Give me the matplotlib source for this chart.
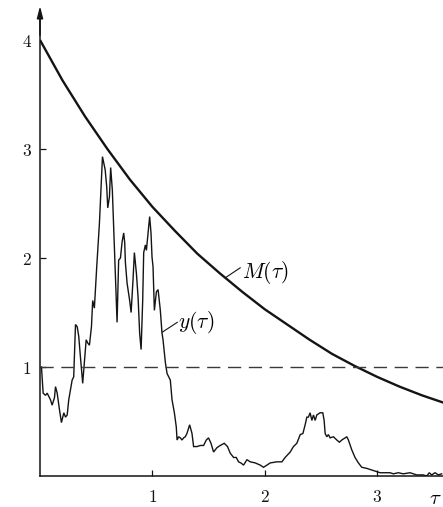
import numpy as np
import matplotlib
matplotlib.use("Agg")
import matplotlib.pyplot as plt

plt.rcParams["mathtext.fontset"] = "cm"

# bounding curve M(tau)
m_tau = [0.0, 0.2, 0.4, 0.6, 0.8, 1.0, 1.2, 1.4, 1.6, 1.8, 2.0, 2.2, 2.4,
         2.6, 2.8, 3.0, 3.2, 3.4, 3.6]
m_val = [4.00, 3.63, 3.30, 3.00, 2.72, 2.47, 2.25, 2.04, 1.86, 1.69, 1.53,
         1.39, 1.25, 1.12, 1.01, 0.91, 0.82, 0.74, 0.67]

# sampled signal y(tau)
y_tau = [0.013, 0.028, 0.049, 0.064, 0.093, 0.108, 0.129, 0.138, 0.153, 0.173,
         0.191, 0.212, 0.227, 0.242, 0.256, 0.271, 0.286, 0.300, 0.316, 0.331,
         0.345, 0.360, 0.380, 0.396, 0.411, 0.425, 0.440, 0.458, 0.469, 0.484,
         0.505, 0.529, 0.556, 0.580, 0.594, 0.603, 0.618, 0.629, 0.644, 0.668,
         0.686, 0.700, 0.716, 0.731, 0.745, 0.754, 0.760, 0.775, 0.798, 0.811,
         0.828, 0.840, 0.858, 0.873, 0.887, 0.900, 0.914, 0.923, 0.938, 0.947,
         0.958, 0.976, 0.988, 0.997, 1.006, 1.018, 1.036, 1.051, 1.062, 1.071,
         1.086, 1.095, 1.116, 1.131, 1.160, 1.175, 1.196, 1.213, 1.220, 1.234,
         1.249, 1.264, 1.278, 1.293, 1.308, 1.332, 1.353, 1.367, 1.397, 1.427,
         1.456, 1.480, 1.500, 1.522, 1.545, 1.575, 1.604, 1.640, 1.669, 1.693,
         1.723, 1.747, 1.767, 1.788, 1.812, 1.842, 1.871, 1.916, 1.960, 1.989,
         2.020, 2.049, 2.108, 2.153, 2.182, 2.227, 2.256, 2.286, 2.316, 2.340,
         2.360, 2.375, 2.389, 2.404, 2.420, 2.434, 2.449, 2.464, 2.493, 2.517,
         2.529, 2.538, 2.553, 2.567, 2.582, 2.612, 2.642, 2.665, 2.686, 2.716,
         2.731, 2.745, 2.775, 2.804, 2.834, 2.864, 2.908, 2.953, 2.997, 3.027,
         3.086, 3.116, 3.145, 3.189, 3.234, 3.293, 3.353, 3.412, 3.442, 3.465,
         3.486, 3.516, 3.545, 3.575]
y_val = [1.00, 0.76, 0.74, 0.76, 0.70, 0.65, 0.72, 0.82, 0.76, 0.61,
         0.49, 0.58, 0.54, 0.56, 0.70, 0.79, 0.88, 0.91, 1.39, 1.37,
         1.28, 1.09, 0.85, 1.06, 1.25, 1.22, 1.20, 1.37, 1.61, 1.54,
         1.92, 2.32, 2.93, 2.81, 2.65, 2.46, 2.56, 2.83, 2.62, 1.92,
         1.41, 1.98, 2.00, 2.15, 2.23, 2.14, 1.96, 1.77, 1.61, 1.50,
         1.80, 2.05, 1.86, 1.64, 1.31, 1.16, 1.61, 2.05, 2.12, 2.07,
         2.19, 2.38, 2.23, 2.01, 1.92, 1.52, 1.69, 1.71, 1.61, 1.52,
         1.31, 1.25, 1.04, 0.94, 0.88, 0.70, 0.58, 0.45, 0.33, 0.36,
         0.35, 0.33, 0.35, 0.36, 0.39, 0.47, 0.39, 0.27, 0.27, 0.28,
         0.28, 0.33, 0.35, 0.30, 0.22, 0.26, 0.28, 0.30, 0.27, 0.21,
         0.17, 0.17, 0.13, 0.12, 0.10, 0.15, 0.13, 0.12, 0.10, 0.08,
         0.10, 0.12, 0.13, 0.13, 0.17, 0.22, 0.27, 0.30, 0.38, 0.39,
         0.47, 0.54, 0.54, 0.58, 0.51, 0.56, 0.51, 0.56, 0.58, 0.58,
         0.51, 0.39, 0.36, 0.38, 0.35, 0.36, 0.33, 0.31, 0.33, 0.35,
         0.36, 0.33, 0.24, 0.17, 0.12, 0.08, 0.07, 0.055, 0.04, 0.03,
         0.03, 0.03, 0.02, 0.03, 0.02, 0.03, 0.01, 0.01, 0.0, 0.03,
         0.01, 0.03, 0.01, 0.02]

threshold = 1.0
x_ticks = [1, 2, 3]
y_ticks = [1, 2, 3, 4]

W, H = 443, 507
fig = plt.figure(figsize=(W / 100, H / 100), dpi=100)
ax = fig.add_axes([40 / W, 31 / H, 403 / W, 464 / H])
ax.set_xlim(0, 3.587)
ax.set_ylim(0, 4.257)

ink = "#141414"
ax.plot(m_tau, m_val, color=ink, lw=1.7, solid_capstyle="butt")
ax.plot(y_tau, y_val, color=ink, lw=1.0, solid_joinstyle="miter")
dash, = ax.plot([0, 3.587], [threshold, threshold], color="#3a3a3a", lw=1.0)
dash.set_dashes([9.5, 5.5])

for side in ["top", "right"]:
    ax.spines[side].set_visible(False)
for side in ["left", "bottom"]:
    ax.spines[side].set_linewidth(1.1)
    ax.spines[side].set_color(ink)

ax.set_xticks(x_ticks)
ax.set_xticklabels([f"${t}$" for t in x_ticks], fontsize=12.5)
ax.set_yticks(y_ticks)
ax.set_yticklabels([f"${t}$" for t in y_ticks], fontsize=12.5)
ax.tick_params(axis="x", direction="in", length=4.3, width=0.9, pad=9, colors=ink)
ax.tick_params(axis="y", direction="in", length=4.3, width=0.9, pad=6, colors=ink)
ax.yaxis.get_major_ticks()[-1].tick1line.set_visible(False)

# arrow head on the vertical axis
ax.annotate("", xy=(0, 1.0 + 6 / 464), xycoords="axes fraction",
            xytext=(0, 0.95), textcoords="axes fraction",
            arrowprops=dict(arrowstyle="-|>,head_length=0.7,head_width=0.18",
                            color=ink, lw=1.1, shrinkA=0, shrinkB=0))

ax.text(3.52, -0.2, r"$\tau$", fontsize=15, ha="center", va="center",
        clip_on=False)

# labels with short leader lines
mx = 1.649
my = np.interp(mx, m_tau, m_val)
ax.plot([mx, 1.782], [my, 1.91], color=ink, lw=0.8)
ax.text(1.80, 1.87, r"$M(\tau)$", fontsize=15.5, ha="left", va="center")

yx, yy = 1.089, 1.32
ax.plot([yx, 1.222], [yy, 1.41], color=ink, lw=0.8)
ax.text(1.225, 1.41, r"$y(\tau)$", fontsize=15.5, ha="left", va="center")

fig.savefig("out.png", dpi=100)
